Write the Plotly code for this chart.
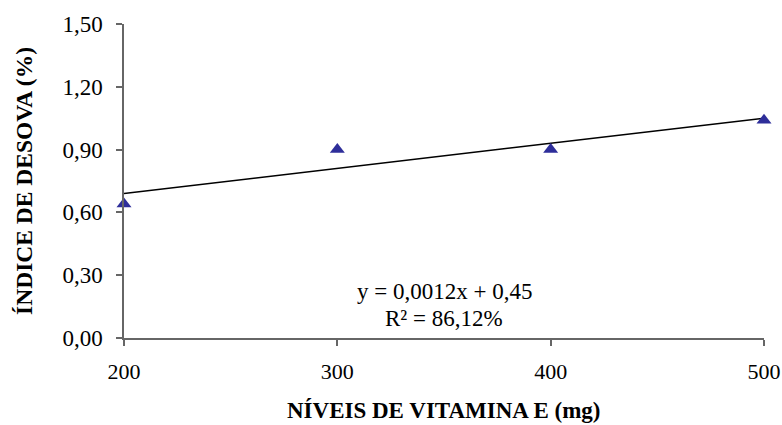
import plotly.graph_objects as go

# Data
niveis = [200, 300, 400, 500]
indice = [0.64, 0.90, 0.90, 1.04]
slope = 0.0012
intercept = 0.45
fit_x = [200, 500]
fit_y = [slope * x + intercept for x in fit_x]
y_ticks = [0.0, 0.30, 0.60, 0.90, 1.20, 1.50]
y_ticklabels = ["0,00", "0,30", "0,60", "0,90", "1,20", "1,50"]
x_ticks = [200, 300, 400, 500]
x_ticklabels = ["200", "300", "400", "500"]

FONT = "Liberation Serif, Times New Roman, serif"
TOP, BOTTOM = 24, 338
H = BOTTOM - TOP

fig = go.Figure()
fig.add_trace(go.Scatter(x=fit_x, y=fit_y, mode="lines",
                         line=dict(color="black", width=1.5),
                         showlegend=False, cliponaxis=False))
fig.add_trace(go.Scatter(x=niveis, y=indice, mode="markers",
                         marker=dict(symbol="triangle-up", size=13, color="#2E2E9A"),
                         showlegend=False, cliponaxis=False))

fig.add_annotation(x=0.5005, xref="paper", yref="paper", y=(BOTTOM - 291) / H,
                   yanchor="middle", text="y = 0,0012x + 0,45", showarrow=False,
                   font=dict(family=FONT, size=23, color="black"))
fig.add_annotation(x=0.5005, xref="paper", yref="paper", y=(BOTTOM - 318) / H,
                   yanchor="middle", text="R² = 86,12%", showarrow=False,
                   font=dict(family=FONT, size=23, color="black"))
# x-axis title
fig.add_annotation(x=0.5, xref="paper", yref="paper", y=-(410 - BOTTOM) / H,
                   yanchor="middle", text="<b>NÍVEIS DE VITAMINA E (mg)</b>",
                   showarrow=False, font=dict(family=FONT, size=23, color="black"))

fig.update_layout(
    width=782, height=425,
    margin=dict(l=124, r=18, t=TOP, b=425 - BOTTOM, autoexpand=False),
    paper_bgcolor="white", plot_bgcolor="white",
    font=dict(family=FONT, size=23, color="black"),
    xaxis=dict(range=[200, 500], tickvals=x_ticks, ticktext=x_ticklabels,
               showgrid=False, zeroline=False, showline=True,
               linecolor="#666666", linewidth=1.5,
               ticks="outside", ticklen=6, tickcolor="#666666", tickwidth=1.5,
               tickfont=dict(family=FONT, size=22),
               ticklabelstandoff=7, ticklabeloverflow="allow", automargin=False),
    yaxis=dict(range=[0, 1.5], tickvals=y_ticks, ticktext=y_ticklabels,
               showgrid=False, zeroline=False, showline=True,
               linecolor="#666666", linewidth=1.5,
               ticks="outside", ticklen=6, tickcolor="#666666", tickwidth=1.5,
               ticklabelstandoff=9, automargin=False,
               title=dict(text="<b>ÍNDICE DE DESOVA (%)</b>", standoff=23,
                          font=dict(family=FONT, size=23.5))),
)

fig.write_html("out.html", config={"displayModeBar": False},
               post_script="document.body.style.margin='0';document.body.style.padding='0';")
